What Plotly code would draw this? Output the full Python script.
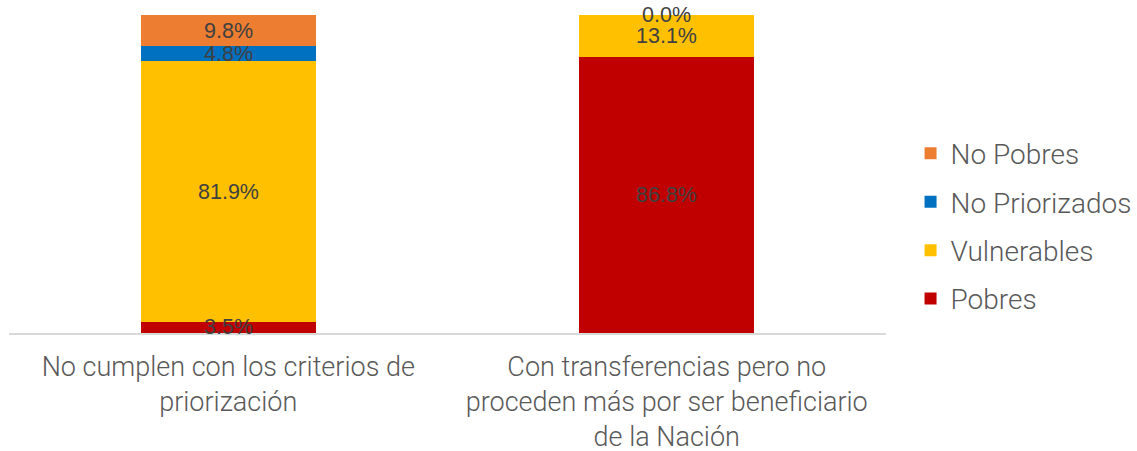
import plotly.graph_objects as go

categories = ["No cumplen con los criterios de<br>priorización",
              "Con transferencias pero no<br>proceden más por ser beneficiario<br>de la Nación"]
series_names = ["Pobres", "Vulnerables", "No Priorizados", "No Pobres"]
pobres = [3.5, 86.8]
vulnerables = [81.9, 13.1]
no_priorizados = [4.8, 0.0]
no_pobres = [9.8, 0.0]
colors = ["#C00000", "#FFC000", "#0070C0", "#ED7D31"]
legend_ranks = [4, 3, 2, 1]

series_values = [pobres, vulnerables, no_priorizados, no_pobres]

fig = go.Figure()
for name, vals, col, rank in zip(series_names, series_values, colors, legend_ranks):
    fig.add_trace(go.Bar(
        x=categories, y=vals, name=name, marker=dict(color=col, line=dict(width=0)),
        legendgroup=name, legendrank=rank, hoverinfo="skip",
    ))

# data labels centred in each segment
annotations = []
for i, cat in enumerate(categories):
    base = 0.0
    for vals, name in zip(series_values, series_names):
        v = vals[i]
        if name == "No Priorizados" and i == 1:
            base += v
            continue
        annotations.append(dict(
            x=cat, y=base + v / 2, xref="x", yref="y", text=f"{v:.1f}%",
            showarrow=False, font=dict(family="Liberation Sans", size=21.5, color="#404040"),
        ))
        base += v

fig.update_layout(
    barmode="stack",
    bargap=0.6,
    width=1137, height=451,
    margin=dict(l=9, r=251, t=15, b=118, autoexpand=False),
    paper_bgcolor="white", plot_bgcolor="white",
    annotations=annotations,
    showlegend=True,
    legend=dict(
        x=1.028, y=0.336, xanchor="left", yanchor="middle",
        traceorder="grouped", tracegroupgap=9,
        font=dict(family="Roboto", size=28, color="#595959", weight=300),
        itemwidth=30,
    ),
    xaxis=dict(
        showline=True, linecolor="#D9D9D9", linewidth=1.5, ticks="",
        tickfont=dict(family="Roboto", size=27, color="#595959", weight=300),
        showgrid=False, zeroline=False, automargin=False, ticklabelstandoff=9,
    ),
    yaxis=dict(range=[0, 100], visible=False, showgrid=False, zeroline=False),
)

fig.write_html("out.html", config={"displayModeBar": False},
               post_script="document.body.style.margin='0';document.body.style.overflow='hidden';")
